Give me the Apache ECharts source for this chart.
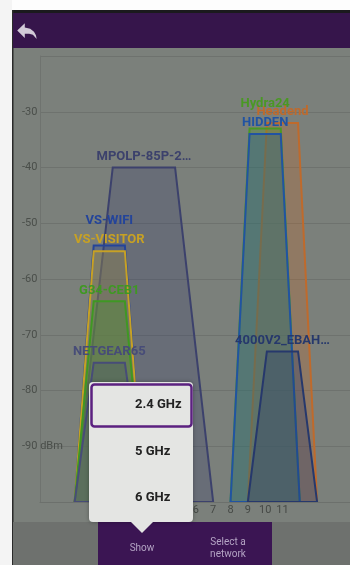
<!DOCTYPE html>
<html>
<head>
<meta charset="utf-8">
<script src="https://cdn.jsdelivr.net/npm/echarts@6/dist/echarts.min.js"></script>
<style>
  html, body { margin: 0; padding: 0; background: #ffffff; }
  #chart { width: 350px; height: 565px; }
</style>
</head>
<body>
<div id="chart"></div>
<script>
  // networks (draw order: first is at the back)
  var names    = ['Headend', 'Hydra24', 'HIDDEN', '4000V2_EBAH\u2026', 'MPOLP-85P-2\u2026', 'VS-WIFI', 'VS-VISITOR', 'G34-CEB1', 'NETGEAR65'];
  var channels = [11, 10, 10, 11, 3, 1, 1, 1, 1];
  var signals  = [-32, -33, -34, -73, -40, -54, -55, -64, -75];
  var widths   = [20, 20, 20, 20, 40, 20, 20, 20, 20]; // MHz
  var channelLabels = [1, 2, 3, 4, 5, 6, 7, 8, 9, 10, 11];
  var bandItems = ['2.4 GHz', '5 GHz', '6 GHz'];

  var colors = ['#bf6a2c', '#4a9824', '#2153a3', '#26386c', '#3c416c', '#24449a', '#c7a124', '#3f9823', '#474c78'];
  var labelLift = { 'Hydra24': 25, 'VS-WIFI': 25 }; // label moved up to avoid overlap

  var chart = echarts.init(document.getElementById('chart'));

  var data = names.map(function (n, i) { return [channels[i], signals[i], widths[i]]; });

  function renderItem(params, api) {
    var i = params.dataIndex;
    var ch = api.value(0), sig = api.value(1), half = api.value(2) / 10;
    var top = half * 0.45;
    var a = api.coord([ch - half, -100]);
    var b = api.coord([ch - top, sig]);
    var c = api.coord([ch + top, sig]);
    var d = api.coord([ch + half, -100]);
    var lift = labelLift[names[i]] || 11;
    return {
      type: 'group',
      children: [
        {
          type: 'polygon',
          shape: { points: [a, b, c, d] },
          style: { fill: echarts.color.modifyAlpha(colors[i], 0.3), stroke: colors[i], lineWidth: 2 }
        },
        {
          type: 'text',
          x: (b[0] + c[0]) / 2,
          y: b[1] - lift,
          style: {
            text: names[i], fill: colors[i], align: 'center', verticalAlign: 'middle',
            font: 'bold 13px Roboto, "Noto Sans", sans-serif'
          }
        }
      ]
    };
  }

  function gText(x, y, text, fill, font, align) {
    return { type: 'text', x: x, y: y, z: 100, style: { text: text, fill: fill, font: font, align: align || 'center', verticalAlign: 'middle' } };
  }

  // back arrow outline (24-unit icon grid)
  var arrowPts = [[10, 9], [10, 5], [3, 12], [10, 19], [10, 14.9], [14, 14.9], [17.5, 16], [21, 20],
                  [20.3, 16.5], [18.5, 13], [15, 10.3], [10, 9]]
    .map(function (p) { return [14 + p[0] * 1.08, 18 + p[1] * 1.05]; });

  var graphics = [
    // frame
    { type: 'rect', z: -10, shape: { x: 0, y: 0, width: 350, height: 565 }, style: { fill: '#7b807b' } },
    { type: 'rect', z: -9, shape: { x: 0, y: 0, width: 350, height: 10 }, style: { fill: '#fdfdfd' } },
    { type: 'rect', z: -9, shape: { x: 0, y: 0, width: 12, height: 565 }, style: { fill: '#f4f4f4' } },
    { type: 'rect', z: -9, shape: { x: 12, y: 10, width: 338, height: 3 }, style: { fill: '#1b1a1d' } },
    { type: 'rect', z: -9, shape: { x: 12, y: 10, width: 1.5, height: 555 }, style: { fill: '#2a2a2a' } },
    // header
    { type: 'rect', z: -8, shape: { x: 13, y: 13, width: 337, height: 35 }, style: { fill: '#36154b' } },
    { type: 'polygon', z: -7, shape: { points: arrowPts }, style: { fill: '#d2cad8' } },
    // bottom bar
    { type: 'rect', z: -8, shape: { x: 13, y: 522, width: 337, height: 43 }, style: { fill: '#6e716e' } },
    { type: 'rect', z: -7, shape: { x: 98, y: 522, width: 174, height: 43 }, style: { fill: '#3b1553' } },
    gText(142, 548, 'Show', '#b4a4c4', '10px Roboto, sans-serif'),
    gText(228, 542, 'Select a', '#b4a4c4', '10px Roboto, sans-serif'),
    gText(228, 554, 'network', '#b4a4c4', '10px Roboto, sans-serif'),
    // popup
    { type: 'rect', z: 100, shape: { x: 89, y: 382, width: 104, height: 140, r: 4 }, style: { fill: '#e4e5e3', shadowBlur: 4, shadowColor: 'rgba(0,0,0,0.3)' } },
    { type: 'polygon', z: 100, shape: { points: [[130, 521], [154, 521], [142, 533]] }, style: { fill: '#e4e5e3' } },
    { type: 'rect', z: 101, shape: { x: 91.5, y: 384.5, width: 100, height: 42, r: 3 }, style: { fill: 'none', stroke: '#5b2180', lineWidth: 2.5 } }
  ];
  var itemY = [405, 452, 498];
  bandItems.forEach(function (t, i) {
    var g = gText(135, itemY[i], t, '#222222', 'bold 13px Roboto, sans-serif', 'left');
    g.z = 102;
    graphics.push(g);
  });

  var option = {
    animation: false,
    backgroundColor: '#7b807b',
    grid: { left: 40, right: 0, top: 56, bottom: 63 },
    xAxis: {
      type: 'value', min: -3, max: 14.9, interval: 1,
      axisLine: { show: true, onZero: false, lineStyle: { color: '#6c706c' } },
      axisTick: { show: false },
      splitLine: { show: false },
      axisLabel: {
        margin: 3, color: '#464946', fontSize: 11, fontFamily: 'Roboto, sans-serif',
        showMaxLabel: false,
        formatter: function (v) { return channelLabels.indexOf(v) >= 0 ? String(v) : ''; }
      }
    },
    yAxis: {
      type: 'value', min: -100, max: -20, interval: 10,
      axisLine: { show: true, onZero: false, lineStyle: { color: '#6f736f' } },
      axisTick: { show: false },
      splitLine: { lineStyle: { color: '#6e726e', width: 1 } },
      axisLabel: {
        align: 'left', margin: 18, color: '#4a4e4a', fontSize: 11, fontFamily: 'Roboto, sans-serif',
        formatter: function (v) {
          if (v === -100 || v === -20) return '';
          return v === -90 ? '-90 dBm' : String(v);
        }
      }
    },
    series: [{
      type: 'custom',
      renderItem: renderItem,
      data: data,
      clip: true,
      z: 5
    }],
    graphic: graphics
  };

  chart.setOption(option);
</script>
</body>
</html>
